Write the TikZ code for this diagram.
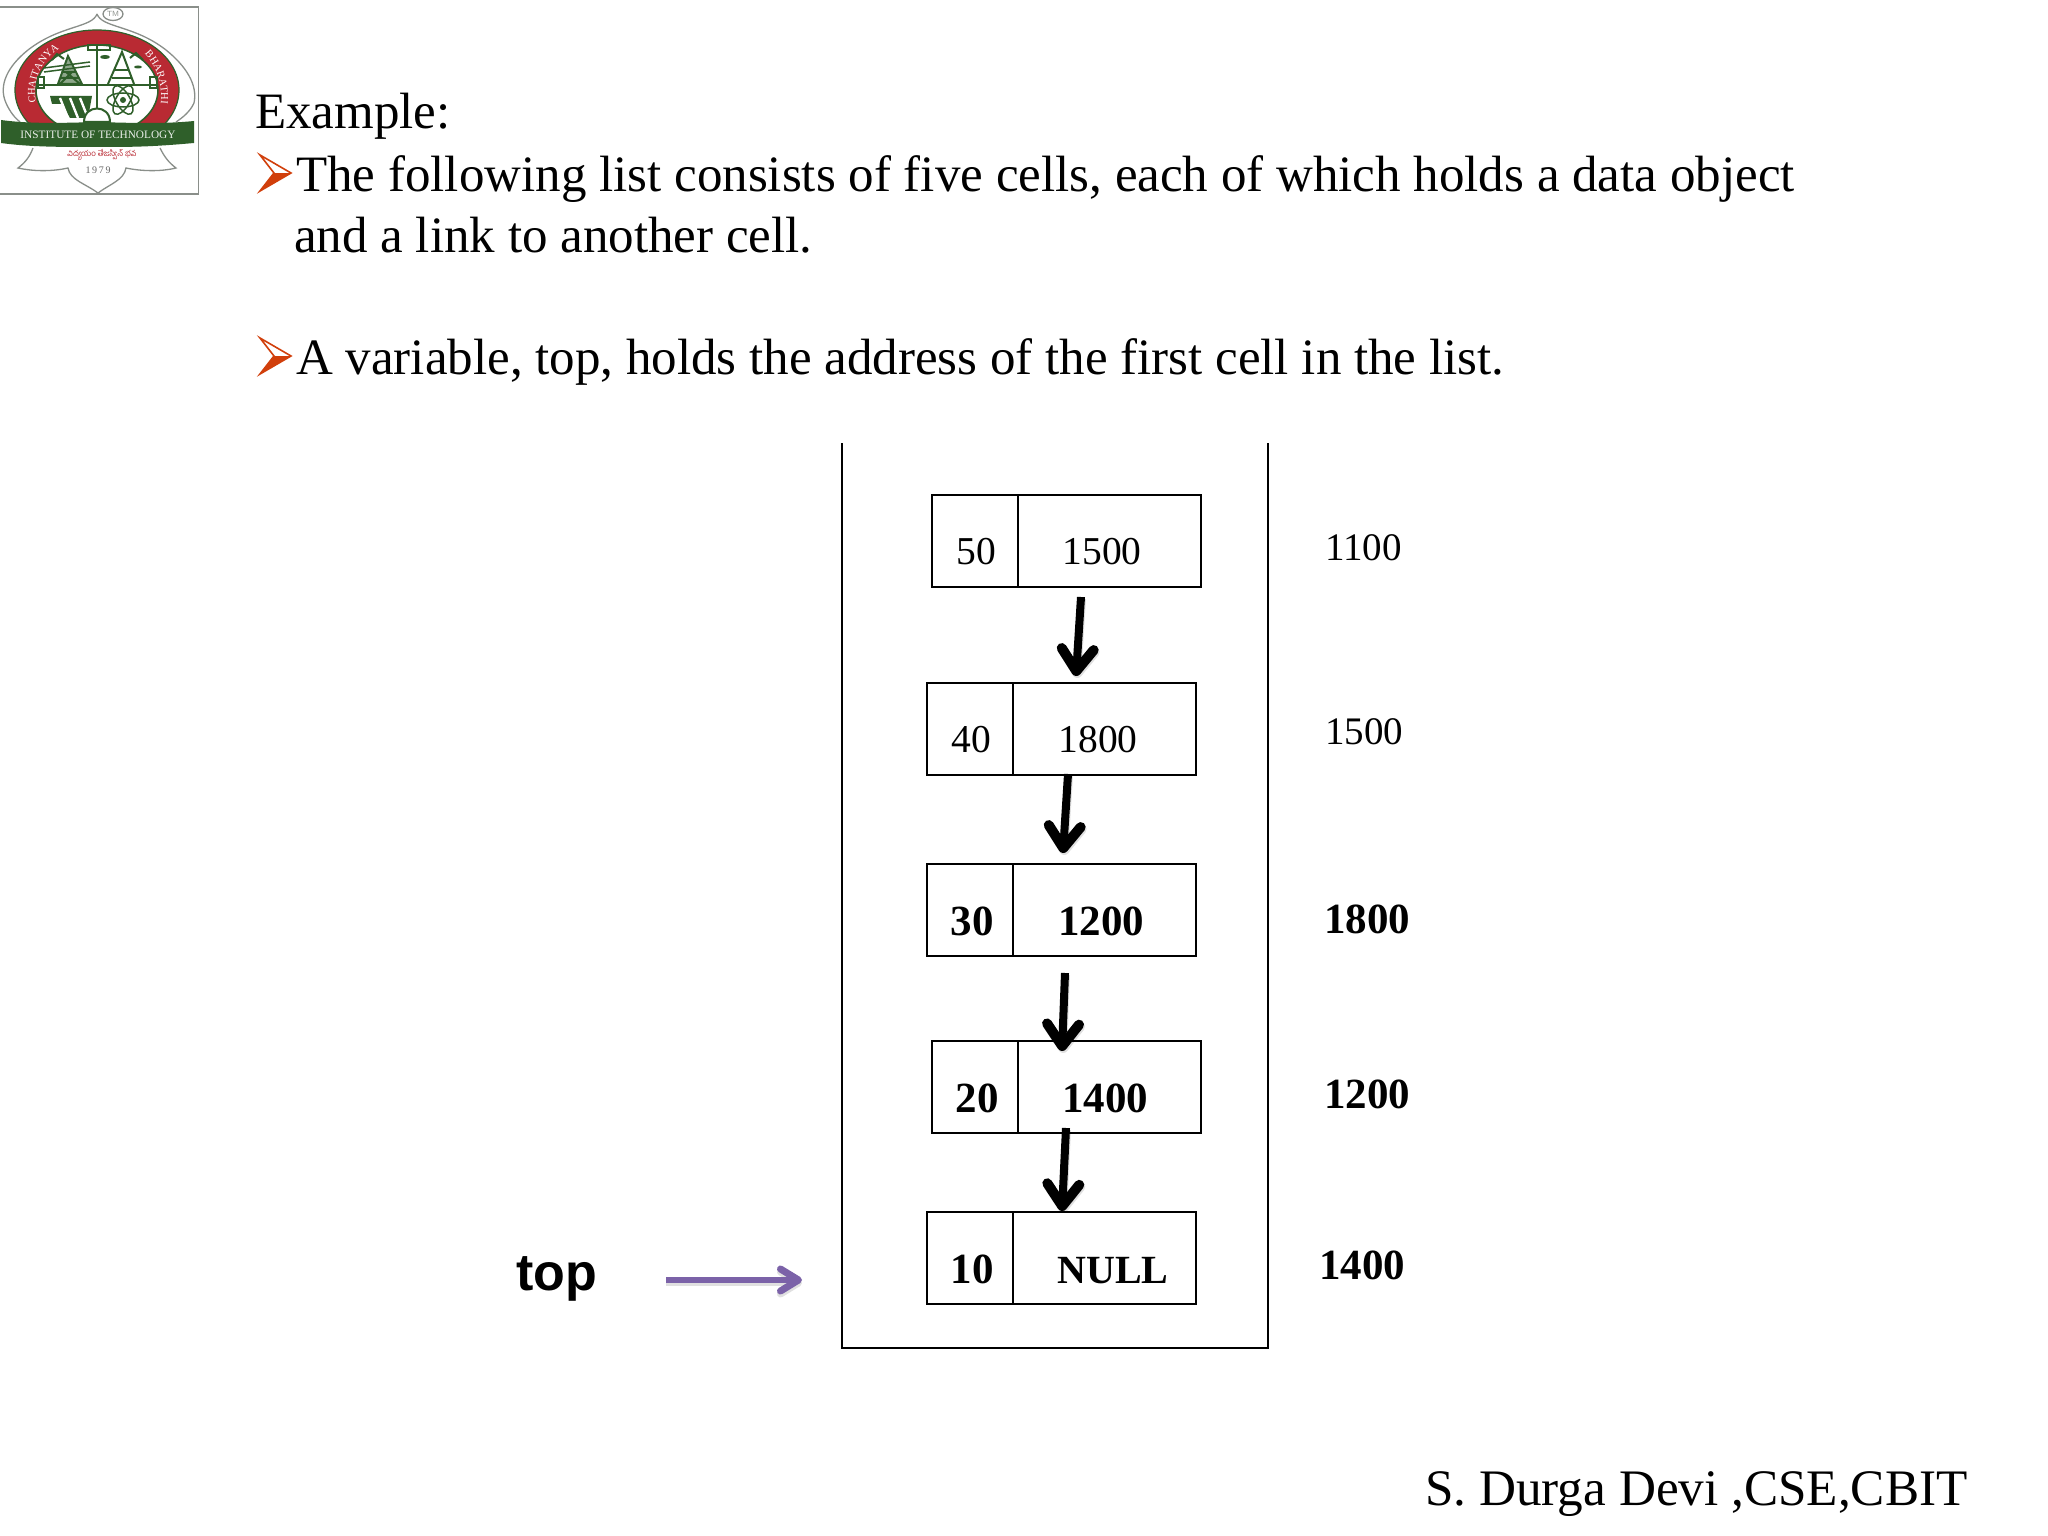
\documentclass[tikz,border=0pt]{standalone}
\usepackage{fontspec}
\setmainfont{Liberation Serif}
\newfontfamily\sansbold{Liberation Sans}[BoldFont={Liberation Sans Bold}]
\newfontfamily\telugufont[Script=Telugu]{Hind Guntur}
\usetikzlibrary{arrows.meta,decorations.text}
\newcommand{\fsz}[1]{\fontsize{#1pt}{#1pt}\selectfont}
\definecolor{bulletred}{HTML}{D13F0B}
\definecolor{logogreen}{HTML}{2F5F2A}
\definecolor{logored}{HTML}{B92A33}
\definecolor{toppurple}{HTML}{7B62A8}
\definecolor{logogray}{HTML}{8A8F8A}
\tikzset{
  x=1pt,y=-1pt,
  txt/.style={anchor=base west,inner sep=0pt,font=\fsz{51}},
  cell/.style={draw=black,line width=2pt,minimum height=92pt,inner sep=0pt,anchor=north west},
  val/.style={anchor=base,inner sep=0pt,font=\fsz{39.5}},
  bval/.style={anchor=base,inner sep=0pt,font=\fsz{43}\bfseries},
  addr/.style={anchor=base west,inner sep=0pt,font=\fsz{39}},
  baddr/.style={anchor=base west,inner sep=0pt,font=\fsz{43}\bfseries},
  linkarrow/.style={line width=8pt,black,-{Straight Barb[length=22pt,width=32pt,line width=10pt,round]}},
  linkshadow/.style={line width=8pt,black,opacity=.12,-{Straight Barb[length=22pt,width=32pt,line width=10pt,round]}},
  logoline/.style={draw=logogreen,line width=2pt},
  lotus/.style={draw=logogray,line width=1.3pt},
}
\begin{document}
\begin{tikzpicture}
\useasboundingbox (0,0) rectangle (2048,1536);
\fill[white] (0,0) rectangle (2048,1536);

% ---------- logo ----------
\draw[draw=logogray,line width=1.2pt] (-2,7) -- (198.5,7) -- (198.5,194) -- (-2,194);
\draw[lotus] (97,14) .. controls (92,28) and (60,25) .. (28,50) .. controls (8,66) and (-2,85) .. (6,103) .. controls (10,112) and (15,118) .. (20,122);
\draw[lotus] (97,14) .. controls (102,28) and (134,25) .. (166,50) .. controls (186,66) and (198,85) .. (194,103) .. controls (190,112) and (182,118) .. (176,122);
\draw[lotus] (113,14) ellipse (10 and 6.5);
\begin{scope}
\clip (0,0) rectangle (198,124);
\fill[logored,even odd rule] (97,90) ellipse (82 and 60) (97,90) ellipse (61 and 45);
\draw[logogreen,line width=1.5pt] (97,90) ellipse (61 and 45);
\draw[logogreen,line width=1.2pt] (97,90) ellipse (82 and 60);
\end{scope}
\draw[logoline] (97,45) -- (97,122);
\draw[logoline] (38,85) -- (157,85);
\draw[logoline] (88,45) rectangle (110,50);
\draw[logoline] (38,77) rectangle (44,88);
\draw[logoline] (150,77) rectangle (157,88);
\draw[logoline] (52,60) -- (57,54) -- (64,59);
\draw[logoline] (130,58) -- (136,53) -- (143,60);
% towers
\draw[logoline,fill=logogreen!55] (58,84) -- (68,56) -- (82,84) -- cycle;
\draw[logoline] (62,72) -- (76,72) (60,78) -- (79,78) (60,84) -- (72,72) (80,84) -- (66,72);
\draw[logoline,line width=1.5pt] (44,68) -- (90,62) (44,72) -- (90,66);
\draw[logoline] (108,84) -- (122,52) -- (134,84);
\draw[logoline] (115,70) -- (128,70) (112,78) -- (131,78);
\fill[logogreen] (105,57) ellipse (5 and 2) (138,67) ellipse (4 and 1.5);
% atom
\draw[logoline,line width=1.5pt] (123,100) ellipse (16 and 7);
\draw[logoline,line width=1.5pt,rotate around={60:(123,100)}] (123,100) ellipse (16 and 7);
\draw[logoline,line width=1.5pt,rotate around={-60:(123,100)}] (123,100) ellipse (16 and 7);
\fill[logogreen] (123,100) circle (3);
% dam
\fill[logogreen] (50,96) -- (92,96) -- (88,118) -- (70,118) -- (62,104) -- (52,104) -- cycle;
\draw[white,line width=2.4pt] (60,98) -- (68,118) (70,98) -- (78,118) (80,98) -- (88,118);
\draw[logoline,fill=white] (84,122) .. controls (84,104) and (110,104) .. (110,122) -- cycle;
% ring texts
\path[decorate,decoration={text along path,text align=center,
  text={|\fsz{10.5}\color{white}|CHAITANYA}}]
  (37,108) .. controls (30,80) and (42,58) .. (64,46);
\path[decorate,decoration={text along path,text align=center,
  text={|\fsz{10.5}\color{white}|BHARATHI}}]
  (140,50) .. controls (154,60) and (165,85) .. (160,110);
% banner
\fill[logogreen] (1,120) .. controls (30,124) and (62,123) .. (97,122) .. controls (132,123) and (165,124) .. (194,121) -- (194,143) .. controls (150,147) and (130,147) .. (97,147) .. controls (60,147) and (30,147) .. (1,143) -- cycle;
\node[inner sep=0pt,text=white!90!logogreen,font=\fsz{11.3}] (bannertext) at (98,135) {INSTITUTE OF TECHNOLOGY};
\node[inner sep=0pt,text=logored,font=\fsz{8}\telugufont] (telugutext) at (102,155) {విద్యయం తేజస్విన్ భవ};
\node[inner sep=0pt,text=black!60,font=\fsz{10}] (yeartext) at (98,170) {1\,9\,7\,9};
\node[inner sep=0pt,text=logogray,font=\sffamily\fsz{7.5}] (tmtext) at (113,14) {TM};
\draw[lotus] (33,148) .. controls (30,156) and (26,162) .. (18,168) .. controls (36,172) and (55,171) .. (68,168) .. controls (70,180) and (86,184) .. (98,193) .. controls (110,184) and (124,180) .. (126,168) .. controls (140,171) and (160,172) .. (176,168) .. controls (168,162) and (164,156) .. (160,148);

% ---------- header text ----------
\node[txt] (t1) at (255,129) {Example:};
\node[txt] (t2) at (296,191) {The following list consists of five cells, each of which holds a data object};
\node[txt] (t3) at (294,252) {and a link to another cell.};
\node[txt] (t4) at (296,374) {A variable, top, holds the address of the first cell in the list.};
\fill[bulletred] (260,191) -- (291,173) -- (274,173) -- cycle;
\draw[bulletred,line width=1.6pt,line join=miter] (260,155) -- (291,173) -- (260,191) -- (274,173) -- cycle;
\fill[bulletred] (260,374) -- (291,356) -- (274,356) -- cycle;
\draw[bulletred,line width=1.6pt,line join=miter] (260,338) -- (291,356) -- (260,374) -- (274,356) -- cycle;

% ---------- outer frame ----------
\coordinate (frameTL) at (842,443);
\coordinate (frameBL) at (842,1348);
\coordinate (frameBR) at (1268,1348);
\coordinate (frameTR) at (1268,443);
\draw[line width=2pt,line join=miter] (frameTL) -- (frameBL) -- (frameBR) -- (frameTR);

% ---------- cells ----------
\node[cell,minimum width=86pt] (a1) at (931,494) {};
\node[cell,minimum width=183pt] (b1) at (1017,494) {};
\node[cell,minimum width=86pt] (a2) at (926,682) {};
\node[cell,minimum width=183pt] (b2) at (1012,682) {};
\node[cell,minimum width=86pt] (a3) at (926,863) {};
\node[cell,minimum width=183pt] (b3) at (1012,863) {};
\node[cell,minimum width=86pt] (a4) at (931,1040) {};
\node[cell,minimum width=183pt] (b4) at (1017,1040) {};
\node[cell,minimum width=86pt] (a5) at (926,1211) {};
\node[cell,minimum width=183pt] (b5) at (1012,1211) {};

\node[val] (va1) at (976,564) {50};
\node[val] (vb1) at (1102,564) {1500};
\node[val] (va2) at (971,752) {40};
\node[val] (vb2) at (1098,752) {1800};
\node[bval] (va3) at (972,935) {30};
\node[bval] (vb3) at (1101,935) {1200};
\node[bval] (va4) at (977,1112) {20};
\node[bval] (vb4) at (1105,1112) {1400};
\node[bval] (va5) at (972,1283) {10};
\node[bval,font=\fsz{40}\bfseries] (vb5) at (1113,1283) {NULL};

\node[addr] (ad1) at (1325,560) {1100};
\node[addr] (ad2) at (1325,744) {1500};
\node[baddr] (ad3) at (1324,933) {1800};
\node[baddr] (ad4) at (1324,1108) {1200};
\node[baddr] (ad5) at (1319,1279) {1400};

% ---------- link arrows ----------
\coordinate (l1s) at (1081,597); \coordinate (l1e) at (1076,676);
\coordinate (l2s) at (1068,774); \coordinate (l2e) at (1063,853);
\coordinate (l3s) at (1065,973); \coordinate (l3e) at (1062,1051);
\coordinate (l4s) at (1066,1128); \coordinate (l4e) at (1062,1211);
\foreach \s/\e in {l1s/l1e,l2s/l2e,l3s/l3e,l4s/l4e}{
  \draw[linkshadow,transform canvas={xshift=1pt,yshift=-2pt}] (\s) -- (\e);
  \draw[linkarrow] (\s) -- (\e);
}

% ---------- top pointer ----------
\node[anchor=base west,inner sep=0pt,font=\sansbold\bfseries\fsz{52}] (top) at (516,1290) {top};
\coordinate (tops) at (666,1280);
\coordinate (tope) at (802,1280);
\draw[line width=6pt,black,opacity=.12,-{Straight Barb[length=18pt,width=22pt,line width=7pt,round]},transform canvas={yshift=-3pt}] (tops) -- (tope);
\draw[line width=6pt,toppurple,-{Straight Barb[length=18pt,width=22pt,line width=7pt,round]}] (tops) -- (tope);

% ---------- footer ----------
\node[anchor=base west,inner sep=0pt,font=\fsz{51.2}] (foot) at (1425,1505) {S. Durga Devi ,CSE,CBIT};
\end{tikzpicture}
\end{document}
